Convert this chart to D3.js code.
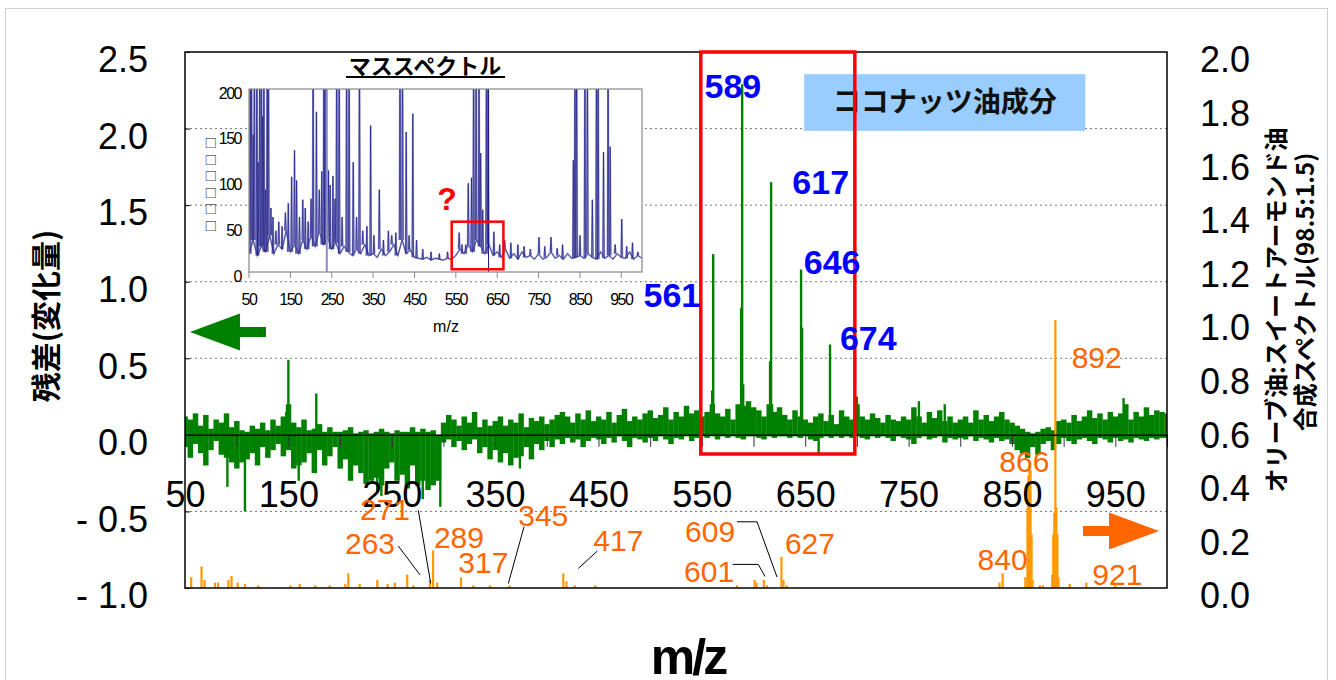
<!DOCTYPE html>
<html>
<head>
<meta charset="utf-8">
<script src="https://cdn.jsdelivr.net/npm/d3@7"></script>
<style>
  body { margin: 0; background: #fff; }
  svg text { font-family: "Liberation Sans", Arial, sans-serif; }
  .jp { font-family: "Noto Sans CJK JP", "Noto Sans", sans-serif; }
</style>
</head>
<body>
<svg id="chart" width="1336" height="680"></svg>
<script>
// ---- main plot: residual (left axis), bins every 5 m/z from 50 to 1000
const resStart = 50, resStep = 5;
const resMax = [
  0.12, 0.10, 0.14, 0.06, 0.13, 0.04, 0.10, 0.08, 0.14, 0.05,
  0.09, 0.03, 0.02, 0.06, 0.04, 0.08, 0.03, 0.10, 0.06, 0.12,
  0.20, 0.08, 0.05, 0.10, 0.03, 0.04, 0.07, 0.02, 0.05, 0.02,
  0.02, 0.03, 0.05, 0.01, 0.02, 0.03, 0.01, 0.02, 0.04, 0.02,
  0.01, 0.03, 0.02, 0.02, 0.05, 0.02, 0.04, 0.02, 0.03, 0.00,
  0.08, 0.13, 0.10, 0.06, 0.12, 0.08, 0.15, 0.05, 0.10, 0.06,
  0.09, 0.12, 0.06, 0.10, 0.08, 0.14, 0.05, 0.11, 0.09, 0.12,
  0.07, 0.10, 0.13, 0.15, 0.12, 0.08, 0.14, 0.10, 0.16, 0.09,
  0.12, 0.10, 0.15, 0.08, 0.13, 0.17, 0.09, 0.12, 0.10, 0.14,
  0.16, 0.11, 0.13, 0.18, 0.10, 0.15, 0.12, 0.19, 0.14, 0.16,
  0.12, 0.15, 0.20, 0.14, 0.12, 0.17, 0.10, 0.20, 0.19, 0.22,
  0.18, 0.16, 0.12, 0.20, 0.15, 0.18, 0.13, 0.10, 0.16, 0.12,
  0.10, 0.08, 0.12, 0.14, 0.09, 0.13, 0.07, 0.16, 0.12, 0.10,
  0.20, 0.12, 0.10, 0.14, 0.11, 0.08, 0.13, 0.10, 0.09, 0.12,
  0.10, 0.18, 0.12, 0.08, 0.15, 0.11, 0.16, 0.09, 0.12, 0.08,
  0.10, 0.12, 0.08, 0.16, 0.10, 0.13, 0.09, 0.12, 0.15, 0.10,
  0.08, 0.06, 0.04, 0.02, 0.01, 0.02, 0.04, 0.05, 0.03, 0.09,
  0.10, 0.08, 0.13, 0.09, 0.12, 0.16, 0.11, 0.14, 0.10, 0.15,
  0.12, 0.14, 0.20, 0.10, 0.15, 0.12, 0.18, 0.13, 0.16, 0.15,
  0.14
];
const resMin = [
  -0.08, -0.15, -0.06, -0.12, -0.20, -0.10, -0.04, -0.13, -0.15, -0.18,
  -0.22, -0.18, -0.16, -0.12, -0.20, -0.08, -0.15, -0.10, -0.06, -0.14,
  -0.10, -0.22, -0.20, -0.18, -0.12, -0.25, -0.10, -0.20, -0.14, -0.08,
  -0.22, -0.16, -0.30, -0.20, -0.25, -0.32, -0.30, -0.28, -0.33, -0.22,
  -0.18, -0.30, -0.26, -0.35, -0.20, -0.33, -0.30, -0.36, -0.33, -0.30,
  -0.05, -0.03, -0.08, -0.04, -0.10, -0.06, -0.03, -0.12, -0.08, -0.16,
  -0.10, -0.18, -0.12, -0.20, -0.15, -0.14, -0.08, -0.16, -0.06, -0.10,
  -0.04, -0.08, -0.03, -0.06, -0.02, -0.05, -0.03, -0.08, -0.04, -0.02,
  -0.03, -0.06, -0.02, -0.05, -0.01, -0.04, -0.08, -0.02, -0.03, -0.05,
  -0.02, -0.04, -0.01, -0.03, -0.06, -0.02, -0.03, -0.01, -0.04, -0.02,
  -0.01, -0.02, -0.01, -0.03, -0.01, -0.02, -0.01, -0.02, -0.03, -0.01,
  -0.01, -0.02, -0.03, -0.01, -0.02, -0.01, -0.01, -0.02, -0.01, -0.02,
  -0.01, -0.03, -0.04, -0.02, -0.01, -0.02, -0.01, -0.02, -0.01, -0.02,
  -0.01, -0.02, -0.03, -0.01, -0.02, -0.01, -0.02, -0.04, -0.01, -0.02,
  -0.03, -0.06, -0.02, -0.01, -0.03, -0.02, -0.01, -0.05, -0.02, -0.03,
  -0.02, -0.03, -0.01, -0.04, -0.02, -0.03, -0.05, -0.02, -0.04, -0.03,
  -0.06, -0.10, -0.12, -0.15, -0.08, -0.13, -0.06, -0.04, -0.10, -0.06,
  -0.02, -0.04, -0.06, -0.03, -0.02, -0.04, -0.06, -0.02, -0.03, -0.05,
  -0.02, -0.04, -0.03, -0.05, -0.02, -0.03, -0.04, -0.02, -0.03, -0.02,
  -0.02
];
// single-channel spikes of the residual [m/z, value]
const resSpikes = [
  [91, -0.34], [108, -0.5], [148, 0.15], [150, 0.49], [160, -0.3], [177, 0.27],
  [236, -0.38], [240, -0.4], [280, -0.42], [297, -0.47], [374, -0.22],
  [560, 0.29], [561, 1.18], [588, 0.83], [589, 2.29], [590, 0.33],
  [616, 0.48], [617, 1.65], [618, 0.2], [646, 1.08], [647, 0.7], [674, 0.59],
  [663, -0.13], [700, 0.25], [760, 0.22], [785, 0.2], [958, 0.24]
];

// ---- synthetic spectrum (right axis) [m/z, value]
const synPeaks = [
  [56, 0.04], [66, 0.08], [69, 0.03], [79, 0.02], [82, 0.02], [92, 0.03], [95, 0.045],
  [101, 0.02], [108, 0.015], [121, 0.01], [152, 0.01], [161, 0.015], [176, 0.01],
  [190, 0.01], [205, 0.015], [208, 0.055], [219, 0.015], [236, 0.03], [246, 0.015],
  [253, 0.02], [265, 0.05], [271, 0.01], [287, 0.03], [290, 0.14], [294, 0.02],
  [317, 0.04], [329, 0.01], [345, 0.01], [364, 0.01], [416, 0.055], [419, 0.025],
  [427, 0.01], [447, 0.01], [584, 0.01], [601, 0.03], [603, 0.02], [610, 0.03],
  [613, 0.01], [627, 0.117], [629, 0.03], [632, 0.01], [838, 0.02], [841, 0.055],
  [863, 0.04], [865, 0.3], [866, 0.42], [867, 0.46], [868, 0.44], [869, 0.2], [870, 0.03],
  [877, 0.01], [880, 0.01], [889, 0.05], [890, 0.2], [891, 0.28], [892, 1.0],
  [893, 0.3], [894, 0.2], [895, 0.04], [906, 0.015], [922, 0.02], [950, 0.01]
];

// ---- axes
const leftTicks = [-1, -0.5, 0, 0.5, 1, 1.5, 2, 2.5];
const leftTickLabels = ["- 1.0", "- 0.5", "0.0", "0.5", "1.0", "1.5", "2.0", "2.5"];
const gridValues = [-0.5, 0.5, 1, 1.5, 2];
const rightTicks = [0, 0.2, 0.4, 0.6, 0.8, 1, 1.2, 1.4, 1.6, 1.8, 2];
const rightTickLabels = ["0.0", "0.2", "0.4", "0.6", "0.8", "1.0", "1.2", "1.4", "1.6", "1.8", "2.0"];
const xTicks = [50, 100, 150, 200, 250, 300, 350, 400, 450, 500, 550, 600, 650, 700, 750, 800, 850, 900, 950, 1000];
const xTickLabels = [50, 150, 250, 350, 450, 550, 650, 750, 850, 950];

// ---- annotations (data coordinates)
const blueLabels = [
  { text: "589", mz: 580, v: 2.278 }, { text: "617", mz: 665, v: 1.652 },
  { text: "646", mz: 676, v: 1.129 }, { text: "674", mz: 711, v: 0.633 },
  { text: "561", mz: 521, v: 0.914 }
];
const orangeLabels = [
  { text: "892", mz: 932, v: 0.862 }, { text: "866", mz: 862, v: 0.475 },
  { text: "840", mz: 841, v: 0.109 }, { text: "921", mz: 952, v: 0.05 },
  { text: "627", mz: 654.6, v: 0.167 }, { text: "609", mz: 558, v: 0.213 },
  { text: "601", mz: 557, v: 0.061 }, { text: "271", mz: 243.5, v: 0.295 },
  { text: "263", mz: 229, v: 0.167 }, { text: "289", mz: 315, v: 0.191 },
  { text: "317", mz: 338.6, v: 0.098 }, { text: "345", mz: 396.6, v: 0.272 },
  { text: "417", mz: 469.2, v: 0.18 }
];
const leaderLines = [
  [[256.3, 0.157], [277.3, 0.049]],
  [[275.7, 0.29], [287.7, 0.017]],
  [[378, 0.229], [362.8, 0.017]],
  [[448.9, 0.138], [430.5, 0.073]],
  [[584, 0.247], [603.4, 0.247], [622.7, 0.041]],
  [[579.8, 0.088], [604.6, 0.088], [611.1, 0.043]]
];
const focusRange = { mz: [549, 698], v: [-0.125, 2.5] };
const cocoBox = { mz: [649, 921], v: [1.985, 2.355], text: "ココナッツ油成分" };

// ---- inset mass spectrum
const insetBaseStep = 10;
const insetBaseline = [
  20, 35, 18, 28, 22, 40, 20, 30, 25, 45,
  22, 30, 20, 35, 25, 40, 28, 45, 30, 38,
  25, 32, 20, 28, 22, 18, 25, 20, 30, 18,
  20, 16, 25, 18, 22, 30, 18, 35, 20, 24,
  16, 15, 14, 16, 13, 15, 14, 13, 15, 14,
  18, 25, 20, 30, 22, 35, 28, 20, 30, 18,
  22, 16, 25, 15, 20, 14, 22, 16, 18, 14,
  20, 14, 16, 22, 15, 18, 14, 20, 15, 16,
  18, 15, 20, 16, 14, 22, 15, 18, 14, 20,
  16, 15, 22, 14, 18, 15
];
const insetPeaks = [
  [53, 260], [56, 260], [60, 150], [63, 260], [69, 260], [72, 120], [76, 260], [80, 260],
  [83, 170], [86, 260], [90, 90], [94, 260], [97, 260], [103, 70], [108, 60], [115, 45],
  [122, 55], [130, 50], [138, 65], [145, 75], [153, 104], [160, 133], [165, 100], [172, 60],
  [180, 79], [186, 70], [193, 55], [200, 80], [205, 260], [213, 175], [220, 90], [226, 110],
  [231, 260], [234, 260], [242, 111], [246, 95], [253, 105], [258, 80], [262, 260], [268, 260],
  [275, 60], [286, 260], [292, 260], [302, 120], [310, 60], [317, 260], [325, 45], [335, 50],
  [344, 160], [352, 40], [365, 90], [375, 35], [387, 45], [395, 40], [405, 43], [415, 260],
  [421, 260], [430, 153], [437, 40], [446, 173], [455, 35], [470, 25], [490, 22], [510, 20],
  [530, 22], [558, 43], [565, 30], [574, 30], [580, 97], [588, 103], [593, 260], [599, 260],
  [606, 260], [610, 130], [615, 68], [624, 260], [628, 260], [642, 44], [656, 30], [668, 35],
  [683, 32], [700, 30], [715, 28], [730, 25], [751, 38], [765, 28], [780, 38], [795, 26],
  [808, 30], [834, 122], [838, 260], [842, 260], [850, 40], [862, 260], [868, 260], [880, 79],
  [890, 260], [894, 260], [907, 131], [918, 260], [923, 137], [935, 30], [951, 58], [963, 28],
  [977, 32], [990, 22]
];
const insetCursors = [238, 629];
const insetYTicks = [0, 50, 100, 150, 200];
const insetXTicks = [50, 150, 250, 350, 450, 550, 650, 750, 850, 950];
const insetMark = { mz: [540, 665], v: [3, 55] };

// ================= drawing =================
const svg = d3.select("#chart");
const box = { left: 185, right: 1167, top: 52, bottom: 588 };
const x = d3.scaleLinear().domain([50, 1000]).range([box.left, box.right]);
const yL = d3.scaleLinear().domain([-1, 2.5]).range([box.bottom, box.top]);
const yR = d3.scaleLinear().domain([0, 2]).range([box.bottom, box.top]);

const GREEN = "#008000", ORANGE = "#FF9900", ORANGE_TXT = "#FF6600";

svg.append("rect").attr("x", 5.5).attr("y", 8.5).attr("width", 1322).attr("height", 700)
  .attr("fill", "none").attr("stroke", "#cfcfcf");

const defs = svg.append("defs");
defs.append("clipPath").attr("id", "plotClip").append("rect")
  .attr("x", box.left).attr("y", box.top)
  .attr("width", box.right - box.left).attr("height", box.bottom - box.top);

// dashed grid
svg.append("g").selectAll("line").data(gridValues).join("line")
  .attr("x1", box.left).attr("x2", box.right)
  .attr("y1", d => yL(d)).attr("y2", d => yL(d))
  .attr("stroke", "#777").attr("stroke-dasharray", "2,3");

// ---- inset
const ix = d3.scaleLinear().domain([50, 1000]).range([249, 642]);
const iy = d3.scaleLinear().domain([0, 200]).range([272, 89]);
const inset = svg.append("g");
inset.append("rect").attr("x", 249).attr("y", 89).attr("width", 393).attr("height", 183)
  .attr("fill", "#fff");
defs.append("clipPath").attr("id", "insetClip").append("rect")
  .attr("x", 249).attr("y", 89).attr("width", 393).attr("height", 183);
const insetPlot = inset.append("g").attr("clip-path", "url(#insetClip)");
const baseAt = m => insetBaseline[Math.min(insetBaseline.length - 1, Math.round((m - 50) / insetBaseStep))];
const baseLine = d3.line().x((d, i) => ix(50 + i * insetBaseStep)).y(d => iy(d));
const peakPath = ([m, v]) => `M${ix(m - 1.6)},${iy(baseAt(m))}L${ix(m)},${iy(v)}L${ix(m + 1.6)},${iy(baseAt(m))}`;
[["#a8a8d8", 1.8], ["#1c1c84", 0.7]].forEach(([col, w]) => {
  insetPlot.append("path").attr("d", baseLine(insetBaseline))
    .attr("fill", "none").attr("stroke", col).attr("stroke-width", w);
  insetPlot.append("g").selectAll("path").data(insetPeaks).join("path")
    .attr("d", peakPath).attr("fill", "none").attr("stroke", col).attr("stroke-width", w);
});
insetPlot.selectAll("line.cursor").data(insetCursors).join("line")
  .attr("x1", d => ix(d)).attr("x2", d => ix(d)).attr("y1", iy(0)).attr("y2", iy(200))
  .attr("stroke", (d, i) => i === 0 ? "#8a8ac8" : "#1c1c84").attr("stroke-width", (d, i) => i === 0 ? 2 : 1);
inset.append("rect").attr("x", 249).attr("y", 89).attr("width", 393).attr("height", 183)
  .attr("fill", "none").attr("stroke", "#888").attr("stroke-width", 1.2);
inset.selectAll("text.iy").data(insetYTicks).join("text")
  .attr("x", 241).attr("y", d => iy(d) + 4).attr("dy", "0.35em")
  .attr("text-anchor", "end").attr("font-size", 16).attr("letter-spacing", -1.5)
  .text(d => d);
inset.selectAll("line.ixt").data(insetXTicks).join("line")
  .attr("x1", d => ix(d)).attr("x2", d => ix(d)).attr("y1", 272).attr("y2", 278)
  .attr("stroke", "#888");
inset.selectAll("text.ix").data(insetXTicks).join("text")
  .attr("x", d => ix(d)).attr("y", 299).attr("dy", "0.35em")
  .attr("text-anchor", "middle").attr("font-size", 16).attr("letter-spacing", -1.5)
  .text(d => d);
inset.append("text").attr("x", 446).attr("y", 326).attr("dy", "0.35em")
  .attr("text-anchor", "middle").attr("font-size", 16).text("m/z");
// unrendered axis title of the inset (shows as empty boxes)
for (let i = 0; i < 6; i++) {
  inset.append("text").attr("x", 211).attr("y", 142 + i * 16.6).attr("dy", "0.35em")
    .attr("text-anchor", "middle").attr("font-size", 17).attr("fill", "#555")
    .attr("font-family", "DejaVu Sans").text("□");
}
inset.append("text").attr("class", "jp").attr("x", 425).attr("y", 66).attr("dy", "0.35em")
  .attr("text-anchor", "middle").attr("font-size", 22).attr("font-weight", "bold")
  .text("マススペクトル");
inset.append("line").attr("x1", 346).attr("x2", 505).attr("y1", 77).attr("y2", 77)
  .attr("stroke", "#000").attr("stroke-width", 2);
inset.append("rect")
  .attr("x", ix(insetMark.mz[0])).attr("y", iy(insetMark.v[1]))
  .attr("width", ix(insetMark.mz[1]) - ix(insetMark.mz[0]))
  .attr("height", iy(insetMark.v[0]) - iy(insetMark.v[1]))
  .attr("fill", "none").attr("stroke", "#ff0000").attr("stroke-width", 2.5);
inset.append("text").attr("x", 447).attr("y", 199).attr("dy", "0.35em")
  .attr("text-anchor", "middle").attr("font-size", 32).attr("font-weight", "bold")
  .attr("fill", "#ff0000").text("?");

// ---- residual (green): each 5 m/z bin filled from its minimum to its maximum
const plot = svg.append("g").attr("clip-path", "url(#plotClip)");
const resData = resMax.map((hi, i) => ({ mz: resStart + i * resStep, hi, lo: resMin[i] }));
const half = resStep / 2;
const binW = x(resStep) - x(0);
plot.append("g").attr("fill", GREEN).selectAll("rect").data(resData).join("rect")
  .attr("x", d => x(d.mz - half)).attr("width", binW + 0.3)
  .attr("y", d => yL(d.hi)).attr("height", d => yL(d.lo) - yL(d.hi));
plot.selectAll("line.rs").data(resSpikes).join("line")
  .attr("x1", d => x(d[0])).attr("x2", d => x(d[0]))
  .attr("y1", yL(0)).attr("y2", d => yL(d[1]))
  .attr("stroke", GREEN).attr("stroke-width", 2.4);

// zero line with ticks and labels inside the plot
const xAxis = d3.axisBottom(x).tickValues(xTicks).tickSizeInner(12).tickSizeOuter(0)
  .tickFormat(d => xTickLabels.includes(d) ? d : "");
const gx = svg.append("g").attr("transform", `translate(0,${yL(0)})`).call(xAxis);
gx.select(".domain").attr("stroke", "#000").attr("stroke-width", 1.5);
gx.selectAll(".tick line").attr("stroke", "#333");
gx.selectAll(".tick text").attr("y", 60).attr("dy", "0.35em")
  .attr("font-size", 36).attr("fill", "#000").attr("font-family", "Liberation Sans, Arial");

// ---- synthetic spectrum (orange)
plot.selectAll("line.os").data(synPeaks).join("line")
  .attr("x1", d => x(d[0])).attr("x2", d => x(d[0]))
  .attr("y1", yR(0)).attr("y2", d => yR(d[1]))
  .attr("stroke", ORANGE).attr("stroke-width", 2.2);

// leader lines + orange labels
const leader = d3.line().x(d => x(d[0])).y(d => yR(d[1]));
svg.append("g").selectAll("path").data(leaderLines).join("path")
  .attr("d", leader).attr("fill", "none").attr("stroke", "#000").attr("stroke-width", 1);
svg.append("g").selectAll("text").data(orangeLabels).join("text")
  .attr("x", d => x(d.mz)).attr("y", d => yR(d.v)).attr("dy", "0.36em")
  .attr("text-anchor", "middle").attr("font-size", 30).attr("fill", ORANGE_TXT)
  .text(d => d.text);

// ---- frame and side axes
svg.append("rect").attr("x", box.left).attr("y", box.top)
  .attr("width", box.right - box.left).attr("height", box.bottom - box.top)
  .attr("fill", "none").attr("stroke", "#000").attr("stroke-width", 1.5);

const gl = svg.append("g").attr("transform", `translate(${box.left},0)`)
  .call(d3.axisLeft(yL).tickValues(leftTicks).tickSizeInner(-5).tickSizeOuter(0)
    .tickPadding(37).tickFormat((d, i) => leftTickLabels[i]));
gl.select(".domain").remove();
gl.selectAll(".tick text").attr("dy", "0.55em").attr("font-size", 36).attr("fill", "#000")
  .attr("font-family", "Liberation Sans, Arial");

const gr = svg.append("g").attr("transform", `translate(${box.right},0)`)
  .call(d3.axisRight(yR).tickValues(rightTicks).tickSize(0).tickPadding(33)
    .tickFormat((d, i) => rightTickLabels[i]));
gr.select(".domain").remove();
gr.selectAll(".tick text").attr("dy", "0.55em").attr("font-size", 36).attr("fill", "#000")
  .attr("font-family", "Liberation Sans, Arial");

// ---- coconut box, focus rectangle, blue labels
svg.append("rect")
  .attr("x", x(cocoBox.mz[0])).attr("y", yL(cocoBox.v[1]))
  .attr("width", x(cocoBox.mz[1]) - x(cocoBox.mz[0]))
  .attr("height", yL(cocoBox.v[0]) - yL(cocoBox.v[1]))
  .attr("fill", "#99CCFF");
svg.append("text").attr("class", "jp")
  .attr("x", x((cocoBox.mz[0] + cocoBox.mz[1]) / 2)).attr("y", yL((cocoBox.v[0] + cocoBox.v[1]) / 2))
  .attr("dy", "0.35em").attr("text-anchor", "middle")
  .attr("font-size", 28).attr("font-weight", "bold").attr("fill", "#111").text(cocoBox.text);
svg.append("rect")
  .attr("x", x(focusRange.mz[0])).attr("y", yL(focusRange.v[1]))
  .attr("width", x(focusRange.mz[1]) - x(focusRange.mz[0]))
  .attr("height", yL(focusRange.v[0]) - yL(focusRange.v[1]))
  .attr("fill", "none").attr("stroke", "#ff0000").attr("stroke-width", 3.5);
svg.append("g").selectAll("text").data(blueLabels).join("text")
  .attr("x", d => x(d.mz)).attr("y", d => yL(d.v)).attr("dy", "0.36em")
  .attr("text-anchor", "middle").attr("font-size", 34).attr("font-weight", "bold")
  .attr("fill", "#0000FF").text(d => d.text);

// ---- arrows
const arrowPath = (tx, ty, dir) => {
  const p = [[0, 0], [50, -18.5], [50, -5], [76, -5], [76, 5], [50, 5], [50, 18.5]];
  return "M" + p.map(([a, b]) => `${tx + dir * a},${ty + b}`).join("L") + "Z";
};
svg.append("path").attr("d", arrowPath(x(54.8), yL(0.672), 1)).attr("fill", GREEN);
svg.append("path").attr("d", arrowPath(x(992.3), yR(0.213), -1)).attr("fill", ORANGE_TXT);

// ---- axis titles
svg.append("text").attr("class", "jp")
  .attr("transform", "translate(46,316) rotate(-90)").attr("dy", "0.35em")
  .attr("text-anchor", "middle").attr("font-size", 30).attr("font-weight", "bold")
  .text("残差(変化量)");
svg.append("text").attr("class", "jp")
  .attr("transform", "translate(1277,310) rotate(-90)").attr("dy", "0.35em")
  .attr("text-anchor", "middle").attr("font-size", 24).attr("font-weight", "bold")
  .text("オリーブ油:スイートアーモンド油");
svg.append("text").attr("class", "jp")
  .attr("transform", "translate(1306,292) rotate(-90)").attr("dy", "0.35em")
  .attr("text-anchor", "middle").attr("font-size", 24).attr("font-weight", "bold")
  .text("合成スペクトル(98.5:1.5)");
svg.append("text").attr("x", 688).attr("y", 674).attr("text-anchor", "middle")
  .attr("font-size", 50).attr("font-weight", "bold").attr("letter-spacing", -3)
  .text("m/z");
</script>
</body>
</html>
